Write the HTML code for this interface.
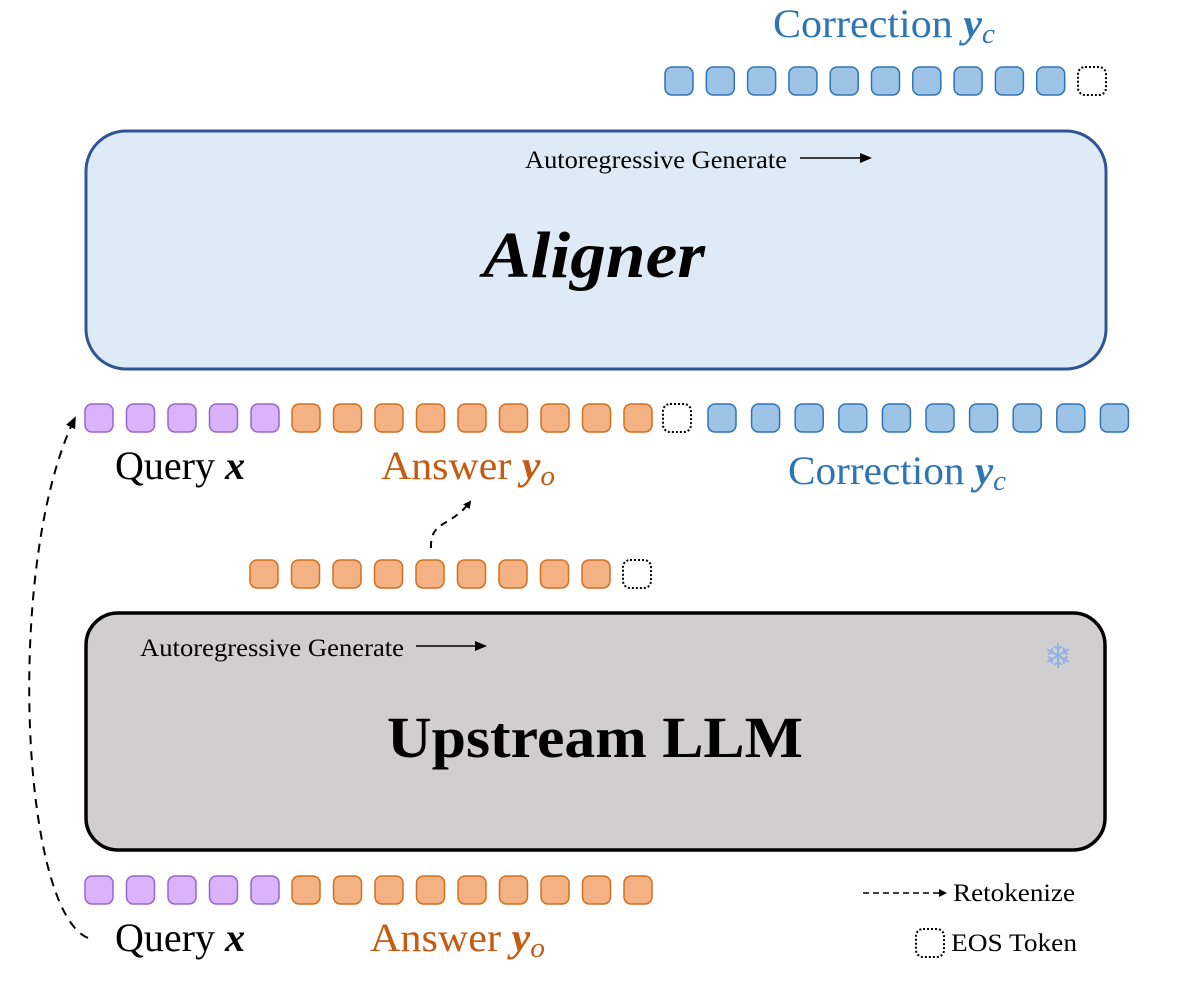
<!DOCTYPE html>
<html><head><meta charset="utf-8"><style>
html,body{margin:0;padding:0;background:#fff;}
svg{display:block;}
text{font-family:"Liberation Serif",serif;}
</style></head><body>
<svg id="s" width="1179" height="984" viewBox="0 0 1179 984" xmlns="http://www.w3.org/2000/svg">
<defs>
<marker id="ah" markerWidth="8" markerHeight="8" refX="6" refY="4" orient="auto" markerUnits="userSpaceOnUse"><path d="M0,0 L8,4 L0,8 z" fill="#000"/></marker>
<marker id="ah2" markerWidth="12" markerHeight="10" refX="10" refY="5" orient="auto" markerUnits="userSpaceOnUse"><path d="M0,0 L12,5 L0,10 z" fill="#000"/></marker>
</defs>
<rect x="86" y="131" width="1020" height="238" rx="40" fill="#deeaf6" stroke="#2f5597" stroke-width="3"/>
<text x="525" y="168" font-size="25" textLength="262" lengthAdjust="spacingAndGlyphs">Autoregressive Generate</text>
<line x1="800" y1="158" x2="870" y2="158" stroke="#000" stroke-width="1.6" marker-end="url(#ah2)"/>
<text x="594" y="277" font-size="66" font-weight="bold" font-style="italic" text-anchor="middle" textLength="222" lengthAdjust="spacingAndGlyphs">Aligner</text>
<rect x="86" y="613" width="1019" height="237" rx="32" fill="#d0cece" stroke="#000" stroke-width="3.5"/>
<text x="140" y="656" font-size="25" textLength="264" lengthAdjust="spacingAndGlyphs">Autoregressive Generate</text>
<line x1="416" y1="646" x2="485" y2="646" stroke="#000" stroke-width="1.6" marker-end="url(#ah2)"/>
<text x="595" y="757" font-size="58" font-weight="bold" text-anchor="middle" textLength="416" lengthAdjust="spacingAndGlyphs">Upstream LLM</text>
<text x="1058" y="668" font-size="34" fill="#8fb1e8" text-anchor="middle">❄</text>
<text x="773" y="37" font-size="40" fill="#2e75b6" textLength="222" lengthAdjust="spacingAndGlyphs">Correction <tspan font-weight="bold" font-style="italic">y</tspan><tspan font-style="italic" font-size="28" dy="6">c</tspan></text>
<text x="115" y="479" font-size="40" fill="#000" textLength="130" lengthAdjust="spacingAndGlyphs">Query <tspan font-weight="bold" font-style="italic">x</tspan></text>
<text x="381" y="479" font-size="40" fill="#c55a11" textLength="174" lengthAdjust="spacingAndGlyphs">Answer <tspan font-weight="bold" font-style="italic">y</tspan><tspan font-style="italic" font-size="28" dy="6">o</tspan></text>
<text x="788" y="484" font-size="40" fill="#2e75b6" textLength="218" lengthAdjust="spacingAndGlyphs">Correction <tspan font-weight="bold" font-style="italic">y</tspan><tspan font-style="italic" font-size="28" dy="6">c</tspan></text>
<text x="115" y="951" font-size="40" fill="#000" textLength="130" lengthAdjust="spacingAndGlyphs">Query <tspan font-weight="bold" font-style="italic">x</tspan></text>
<text x="370" y="951" font-size="40" fill="#c55a11" textLength="175" lengthAdjust="spacingAndGlyphs">Answer <tspan font-weight="bold" font-style="italic">y</tspan><tspan font-style="italic" font-size="28" dy="6">o</tspan></text>
<line x1="863" y1="893" x2="945" y2="893" stroke="#000" stroke-width="1.5" stroke-dasharray="6,4" marker-end="url(#ah)"/>
<text x="953" y="901" font-size="25" textLength="122" lengthAdjust="spacingAndGlyphs">Retokenize</text>
<rect x="916" y="929" width="28" height="28" rx="7" fill="none" stroke="#000" stroke-width="2" stroke-dasharray="2,2"/>
<text x="951" y="951" font-size="25" textLength="126" lengthAdjust="spacingAndGlyphs">EOS Token</text>
<path d="M88,938 C20,910 5,560 75,418" fill="none" stroke="#000" stroke-width="2" stroke-dasharray="9,7" marker-end="url(#ah2)"/>
<path d="M431,548 C430,520 450,528 470,502" fill="none" stroke="#000" stroke-width="2" stroke-dasharray="7,6" marker-end="url(#ah)"/>
<g id="tok"></g>
</svg>
<script>
var g=document.getElementById('tok'),NS='http://www.w3.org/2000/svg';
var C={p:['#dab3fb','#9966cc'],o:['#f4b183','#d46f1e'],b:['#9dc3e6','#2e75b6']};
function t(x,y,k){var r=document.createElementNS(NS,'rect');r.setAttribute('x',x);r.setAttribute('y',y);r.setAttribute('width',28);r.setAttribute('height',28);r.setAttribute('rx',7);
if(k=='e'){r.setAttribute('fill','none');r.setAttribute('stroke','#000');r.setAttribute('stroke-width',2);r.setAttribute('stroke-dasharray','2,2');}
else{r.setAttribute('fill',C[k][0]);r.setAttribute('stroke',C[k][1]);r.setAttribute('stroke-width',1.5);}g.appendChild(r);}
var i;
for(i=0;i<10;i++)t(665+i*41.3,67,'b');t(1078,67,'e');
for(i=0;i<5;i++)t(85+i*41.5,404,'p');
for(i=0;i<9;i++)t(292+i*41.5,404,'o');
t(663,404,'e');
for(i=0;i<10;i++)t(708+i*43.6,404,'b');
for(i=0;i<9;i++)t(250+i*41.5,560,'o');t(623,560,'e');
for(i=0;i<5;i++)t(85+i*41.5,876,'p');
for(i=0;i<9;i++)t(292+i*41.5,876,'o');
</script>
</body></html>
